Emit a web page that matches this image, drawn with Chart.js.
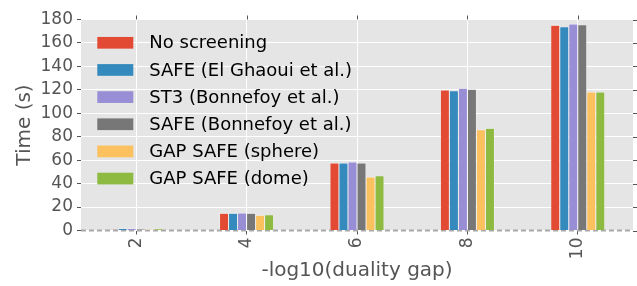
<!DOCTYPE html>
<html>
<head>
<meta charset="utf-8">
<script src="https://cdn.jsdelivr.net/npm/chart.js@4/dist/chart.umd.min.js"></script>
<style>
  html, body { margin: 0; padding: 0; background: #ffffff; }
  #wrap { width: 637px; height: 286px; position: relative; }
</style>
</head>
<body>
<div id="wrap"><canvas id="c" width="637" height="286"></canvas></div>
<script>
const categories = ['2', '4', '6', '8', '10'];
const seriesNames = [
  'No screening',
  'SAFE (El Ghaoui et al.)',
  'ST3 (Bonnefoy et al.)',
  'SAFE (Bonnefoy et al.)',
  'GAP SAFE (sphere)',
  'GAP SAFE (dome)'
];
const noScreening   = [0.7, 14.7, 57.6, 119.9, 175.1];
const safeElGhaoui  = [1.7, 14.7, 57.6, 119.3, 173.9];
const st3Bonnefoy   = [1.7, 14.9, 58.4, 121.3, 176.2];
const safeBonnefoy  = [1.2, 14.7, 57.6, 120.5, 175.6];
const gapSphere     = [1.0, 13.0, 45.6, 86.0, 118.2];
const gapDome       = [1.4, 13.5, 46.8, 87.2, 118.2];
const yTicks = [0, 20, 40, 60, 80, 100, 120, 140, 160, 180];

const seriesValues = [noScreening, safeElGhaoui, st3Bonnefoy, safeBonnefoy, gapSphere, gapDome];
const colors = ['#E24A33', '#348ABD', '#988ED5', '#777777', '#FBC15E', '#8EBA42'];

const FONT = "'DejaVu Sans', sans-serif";

const extras = {
  id: 'extras',
  beforeDraw(chart) {
    const {ctx, chartArea: a} = chart;
    ctx.save();
    ctx.fillStyle = '#E5E5E5';
    ctx.fillRect(a.left, a.top, a.right - a.left, a.bottom - a.top);
    ctx.restore();
  },
  beforeDatasetsDraw(chart) {
    const {ctx, chartArea: a, scales} = chart;
    const y0 = scales.y.getPixelForValue(0);
    ctx.save();
    ctx.strokeStyle = '#A8A8A8';
    ctx.lineWidth = 2;
    ctx.setLineDash([5, 3]);
    ctx.beginPath();
    ctx.moveTo(a.left, y0);
    ctx.lineTo(a.right, y0);
    ctx.stroke();
    ctx.restore();
  },
  afterDraw(chart) {
    const {ctx, chartArea: a, scales} = chart;
    ctx.save();
    // top & right tick marks
    ctx.strokeStyle = '#555555';
    ctx.lineWidth = 1;
    ctx.beginPath();
    scales.x.ticks.forEach((t, i) => {
      const px = Math.round(scales.x.getPixelForTick(i)) + 0.5;
      ctx.moveTo(px, a.top);
      ctx.lineTo(px, a.top - 4);
    });
    scales.y.ticks.forEach((t, i) => {
      const py = Math.round(scales.y.getPixelForTick(i)) + 0.5;
      ctx.moveTo(a.right, py);
      ctx.lineTo(a.right + 4, py);
    });
    ctx.stroke();
    // legend
    const boxX = a.left + 16.3, boxW = 36, boxH = 11.7;
    const textX = a.left + 68.3;
    const y0 = a.top + 23.3, dy = 27.15;
    ctx.font = "18px " + FONT;
    ctx.textBaseline = 'middle';
    ctx.textAlign = 'left';
    chart.data.datasets.forEach((ds, i) => {
      const cy = y0 + i * dy;
      ctx.fillStyle = ds.backgroundColor;
      ctx.fillRect(boxX, cy - boxH / 2, boxW, boxH);
      ctx.fillStyle = '#000000';
      ctx.fillText(ds.label, textX, cy + 1);
    });
    ctx.restore();
  }
};

new Chart(document.getElementById('c'), {
  type: 'bar',
  data: {
    labels: categories,
    datasets: seriesNames.map((name, i) => ({
      label: name,
      data: seriesValues[i],
      backgroundColor: colors[i],
      borderColor: '#ffffff',
      borderWidth: {left: 0.5, right: 0.5, top: 0.5, bottom: 0},
      categoryPercentage: 0.49,
      barPercentage: 1.0
    }))
  },
  options: {
    responsive: false,
    animation: false,
    devicePixelRatio: 1,
    layout: { padding: { top: 19.5, right: 4, left: 0, bottom: 0 } },
    plugins: {
      legend: { display: false },
      tooltip: { enabled: false }
    },
    scales: {
      x: {
        offset: true,
        grid: {
          offset: false,
          color: '#FFFFFF',
          lineWidth: 1,
          tickColor: '#555555',
          tickLength: 4,
          drawTicks: true
        },
        border: { display: false },
        ticks: {
          autoSkip: false,
          minRotation: 90,
          maxRotation: 90,
          padding: 3,
          color: '#555555',
          font: { family: FONT, size: 17 }
        },
        title: {
          display: true,
          text: '-log10(duality gap)',
          color: '#555555',
          font: { family: FONT, size: 20 },
          padding: { top: 0, bottom: 3 }
        },
        afterFit(scale) { scale.height = 55.5; }
      },
      y: {
        min: 0,
        max: 180,
        afterBuildTicks(scale) { scale.ticks = yTicks.map(v => ({ value: v })); },
        grid: {
          color: '#FFFFFF',
          lineWidth: 1,
          tickColor: '#555555',
          tickLength: 4
        },
        border: { display: false },
        ticks: {
          padding: 4,
          color: '#555555',
          font: { family: FONT, size: 17 }
        },
        title: {
          display: true,
          text: 'Time (s)',
          color: '#555555',
          font: { family: FONT, size: 20 },
          padding: { top: 13, bottom: 0 }
        },
        afterFit(scale) { scale.width = 81; }
      }
    }
  },
  plugins: [extras]
});
</script>
</body>
</html>
